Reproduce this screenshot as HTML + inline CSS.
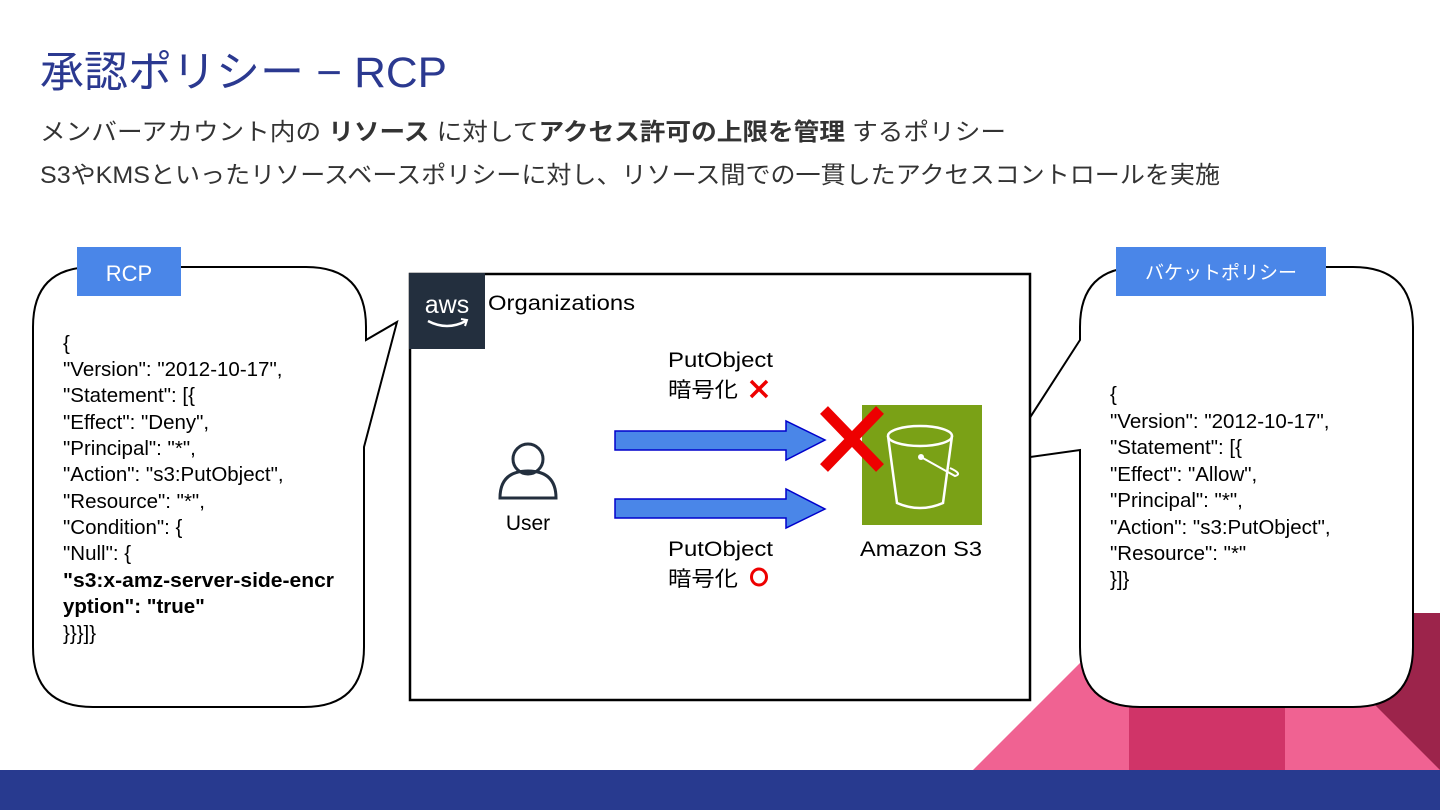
<!DOCTYPE html>
<html><head><meta charset="utf-8"><style>
body{margin:0;width:1440px;height:810px;overflow:hidden;background:#fff}
svg{display:block}
text{font-family:"Liberation Sans","Noto Sans CJK JP",sans-serif}
</style></head><body>
<svg width="1440" height="810" viewBox="0 0 1440 810">
<polygon points="973,770 1130,613 1440,613 1440,770" fill="#f06292"/>
<rect x="1129" y="613" width="156" height="157" fill="#d03468"/>
<polygon points="1283,613 1440,613 1440,770" fill="#9c244b"/>
<rect x="0" y="770" width="1440" height="40" fill="#283a8f"/>

<text x="40" y="87" font-size="43" fill="#2b3990" textLength="407" lengthAdjust="spacingAndGlyphs">承認ポリシー − RCP</text>
<text x="40" y="140" font-size="24" fill="#333" textLength="966" lengthAdjust="spacingAndGlyphs">メンバーアカウント内の <tspan font-weight="bold">リソース</tspan> に対して<tspan font-weight="bold">アクセス許可の上限を管理</tspan>  するポリシー</text>
<text x="40" y="183" font-size="24" fill="#333" textLength="1180" lengthAdjust="spacingAndGlyphs">S3やKMSといったリソースベースポリシーに対し、リソース間での一貫したアクセスコントロールを実施</text>

<path d="M93,267 H306 Q366,267 366,327 V340 L397,322 L364,447 V647 Q364,707 304,707 H93 Q33,707 33,647 V327 Q33,267 93,267 Z" fill="#fff" stroke="#000" stroke-width="2"/>
<rect x="77" y="247" width="104" height="49" fill="#4a86e8"/>
<text x="129" y="281" font-size="22" fill="#fff" text-anchor="middle">RCP</text>
<g font-size="20.5" fill="#000">
<text x="63" y="350">{</text>
<text x="63" y="376">"Version": "2012-10-17",</text>
<text x="63" y="402">"Statement": [{</text>
<text x="63" y="429">"Effect": "Deny",</text>
<text x="63" y="455">"Principal": "*",</text>
<text x="63" y="481">"Action": "s3:PutObject",</text>
<text x="63" y="508">"Resource": "*",</text>
<text x="63" y="534">"Condition": {</text>
<text x="63" y="560">"Null": {</text>
<text x="63" y="587" font-weight="bold" textLength="271" lengthAdjust="spacingAndGlyphs">"s3:x-amz-server-side-encr</text>
<text x="63" y="613" font-weight="bold">yption": "true"</text>
<text x="63" y="640">}}}]}</text>
</g>

<path d="M1140,267 H1353 Q1413,267 1413,327 V647 Q1413,707 1353,707 H1140 Q1080,707 1080,647 V450 L1002,461 L1080,340 V327 Q1080,267 1140,267 Z" fill="#fff" stroke="#000" stroke-width="2"/>
<rect x="1116" y="247" width="210" height="49" fill="#4a86e8"/>
<text x="1221" y="279" font-size="19" fill="#fff" text-anchor="middle">バケットポリシー</text>
<g font-size="20.5" fill="#000">
<text x="1110" y="401">{</text>
<text x="1110" y="428">"Version": "2012-10-17",</text>
<text x="1110" y="454">"Statement": [{</text>
<text x="1110" y="481">"Effect": "Allow",</text>
<text x="1110" y="507">"Principal": "*",</text>
<text x="1110" y="534">"Action": "s3:PutObject",</text>
<text x="1110" y="560">"Resource": "*"</text>
<text x="1110" y="586">}]}</text>
</g>

<rect x="410" y="274" width="620" height="426" fill="#fff" stroke="#000" stroke-width="2.5"/>
<rect x="409" y="273" width="76" height="76" fill="#232f3e"/>
<text x="447" y="313" font-size="25" fill="#fff" text-anchor="middle">aws</text>
<path d="M428,321 Q447,331 466,321" fill="none" stroke="#fff" stroke-width="2.5"/>
<path d="M461,319 L467,320 L465,326" fill="none" stroke="#fff" stroke-width="2"/>
<text x="488" y="310" font-size="21" fill="#000" textLength="147" lengthAdjust="spacingAndGlyphs">Organizations</text>

<circle cx="528" cy="459" r="15" fill="none" stroke="#232f3e" stroke-width="3"/>
<path d="M500,498 Q500,471 528,471 Q556,471 556,498 Z" fill="none" stroke="#232f3e" stroke-width="3"/>
<text x="528" y="530" font-size="21" text-anchor="middle">User</text>

<polygon points="615,431 786,431 786,421 825,440 786,460 786,450 615,450" fill="#4a86e8" stroke="#0000cc" stroke-width="1.5"/>
<polygon points="615,499 786,499 786,489 825,509 786,528 786,518 615,518" fill="#4a86e8" stroke="#0000cc" stroke-width="1.5"/>

<g font-size="21" fill="#000">
<text x="668" y="367" textLength="105" lengthAdjust="spacingAndGlyphs">PutObject</text>
<text x="668" y="397" textLength="70" lengthAdjust="spacingAndGlyphs">暗号化</text>
<text x="668" y="556" textLength="105" lengthAdjust="spacingAndGlyphs">PutObject</text>
<text x="668" y="586" textLength="70" lengthAdjust="spacingAndGlyphs">暗号化</text>
</g>
<path d="M751,381 L767,397 M767,381 L751,397" stroke="#e00" stroke-width="3.5"/>
<ellipse cx="759" cy="577" rx="7.5" ry="8" fill="none" stroke="#e00" stroke-width="3"/>

<rect x="862" y="405" width="120" height="120" fill="#7aa116"/>
<ellipse cx="920" cy="436" rx="32" ry="10" fill="none" stroke="#fff" stroke-width="2.5"/>
<path d="M888,436 L897,503 Q920,513 943,503 L952,436" fill="none" stroke="#fff" stroke-width="2.5"/>
<circle cx="921" cy="457" r="3" fill="#fff"/>
<path d="M921,457 L955,476 Q963,474 950,468" fill="none" stroke="#fff" stroke-width="2"/>
<text x="860" y="556" font-size="21" textLength="122" lengthAdjust="spacingAndGlyphs">Amazon S3</text>

<path d="M824,410 L880,468 M880,410 L824,468" stroke="#ee0000" stroke-width="11"/>
</svg>
</body></html>
